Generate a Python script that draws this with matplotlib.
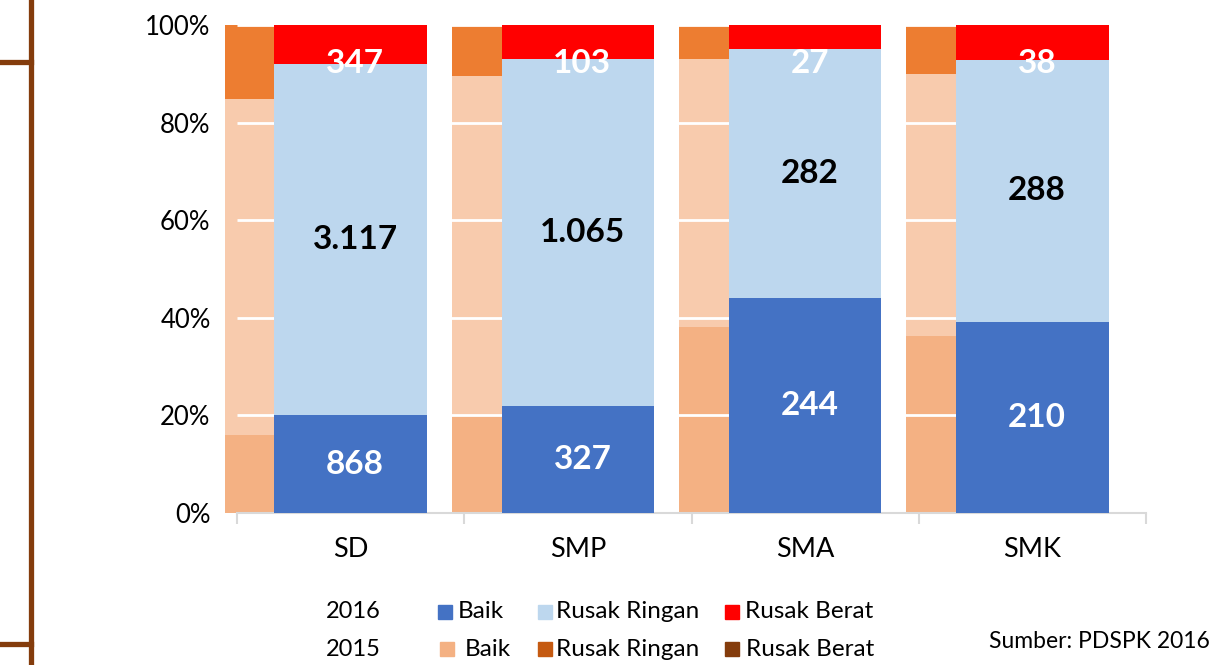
import numpy as np
import matplotlib
matplotlib.use('Agg')
from matplotlib import pyplot as plt
from matplotlib.patches import Rectangle
from matplotlib.lines import Line2D

plt.rcParams['font.family'] = ['Lato', 'DejaVu Sans']

# Data
jenjang = ['SD', 'SMP', 'SMA', 'SMK']

# 2016 (jumlah ruang kelas)
baik_2016 = np.array([868, 327, 244, 210])
ringan_2016 = np.array([3117, 1065, 282, 288])
berat_2016 = np.array([347, 103, 27, 38])

# 2015 (persen)
baik_2015 = np.array([16.0, 19.9, 38.2, 36.3])
ringan_2015 = np.array([68.8, 69.6, 54.8, 53.7])
berat_2015 = np.array([15.2, 10.5, 7.0, 10.0])

# Colors
c16 = ['#4472C4', '#BDD7EE', '#FF0000']
c15 = ['#F4B183', '#F8CBAD', '#ED7D31']
c15_leg = ['#F4B183', '#C55A11', '#843C0C']

total_2016 = baik_2016 + ringan_2016 + berat_2016
p_baik = baik_2016 / total_2016 * 100
p_ringan = ringan_2016 / total_2016 * 100
p_berat = berat_2016 / total_2016 * 100

W, H = 1232, 665
fig = plt.figure(figsize=(W / 100, H / 100), dpi=100)
ax = fig.add_axes([237 / W, 1 - 513 / H, (1146 - 237) / W, (513 - 25) / H])

x = np.arange(len(jenjang))
w = 0.67
off = 0.22

# 2015 bars (behind)
ax.bar(x - off, baik_2015, w, color=c15[0], zorder=1, clip_on=False)
ax.bar(x - off, ringan_2015, w, bottom=baik_2015, color=c15[1], zorder=1, clip_on=False)
ax.bar(x - off, berat_2015, w, bottom=baik_2015 + ringan_2015, color=c15[2], zorder=1, clip_on=False)

# white gridlines
ax.hlines([20, 40, 60, 80, 100], -0.5, 3.5, color='white', lw=2, zorder=2)

# 2016 bars (front)
ax.bar(x, p_baik, w, color=c16[0], zorder=3)
ax.bar(x, p_ringan, w, bottom=p_baik, color=c16[1], zorder=3)
ax.bar(x, p_berat, w, bottom=p_baik + p_ringan, color=c16[2], zorder=3)

def fmt(v):
    return f"{v:,}".replace(',', '.')

for i in range(len(jenjang)):
    ax.text(x[i] + 0.02, p_baik[i] / 2, fmt(baik_2016[i]), ha='center', va='center',
            color='white', fontsize=24, fontweight='bold', zorder=4)
    ax.text(x[i] + 0.02, p_baik[i] + p_ringan[i] / 2, fmt(ringan_2016[i]), ha='center', va='center',
            color='black', fontsize=24, fontweight='bold', zorder=4)
    ax.text(x[i] + 0.02, 92.2, fmt(berat_2016[i]), ha='center', va='center',
            color='white', fontsize=24, fontweight='bold', zorder=4)

ax.set_xlim(-0.5, 3.5)
ax.set_ylim(0, 100)
ax.set_yticks(range(0, 101, 20))
ax.set_yticklabels([f"{v}%" for v in range(0, 101, 20)], fontsize=18.5)
ax.tick_params(axis='y', length=0, pad=19)
ax.set_xticks(x)
ax.set_xticklabels(jenjang, fontsize=19.5)
ax.set_xticks(np.arange(-0.5, 4, 1), minor=True)
ax.tick_params(axis='x', which='major', length=0, pad=17)
ax.tick_params(axis='x', which='minor', length=8, color='#D9D9D9', width=1.5)
for s in ['top', 'right', 'left']:
    ax.spines[s].set_visible(False)
ax.spines['bottom'].set_color('#D9D9D9')
ax.spines['bottom'].set_linewidth(1.5)

# brown bracket on the left
fig.add_artist(Line2D([31 / W, 31 / W], [0, 1], color='#843C0C', lw=3.8))
fig.add_artist(Line2D([0, 31 / W], [1 - 62 / H, 1 - 62 / H], color='#843C0C', lw=3.8))
fig.add_artist(Line2D([0, 31 / W], [1 - 644 / H, 1 - 644 / H], color='#843C0C', lw=3.8))

# custom legend
labels = ['Baik', 'Rusak Ringan', 'Rusak Berat']
rows = [('2016', 612, c16, [438, 538, 725], [458, 556, 745]),
        ('2015', 649, c15_leg, [440, 538, 725], [465, 556, 746])]
sq = 14
for year, yc, cols, sx, tx in rows:
    fig.text(353 / W, 1 - yc / H, year, ha='center', va='center', fontsize=17)
    for lab, col, a, b in zip(labels, cols, sx, tx):
        fig.add_artist(Rectangle((a / W, 1 - (yc + sq / 2) / H), sq / W, sq / H,
                                 transform=fig.transFigure, color=col))
        fig.text(b / W, 1 - yc / H, lab, ha='left', va='center', fontsize=17.5)

fig.text(1210 / W, 1 - 642 / H, 'Sumber: PDSPK 2016', ha='right', va='center', fontsize=16.5)

plt.savefig('out.png', dpi=100)
